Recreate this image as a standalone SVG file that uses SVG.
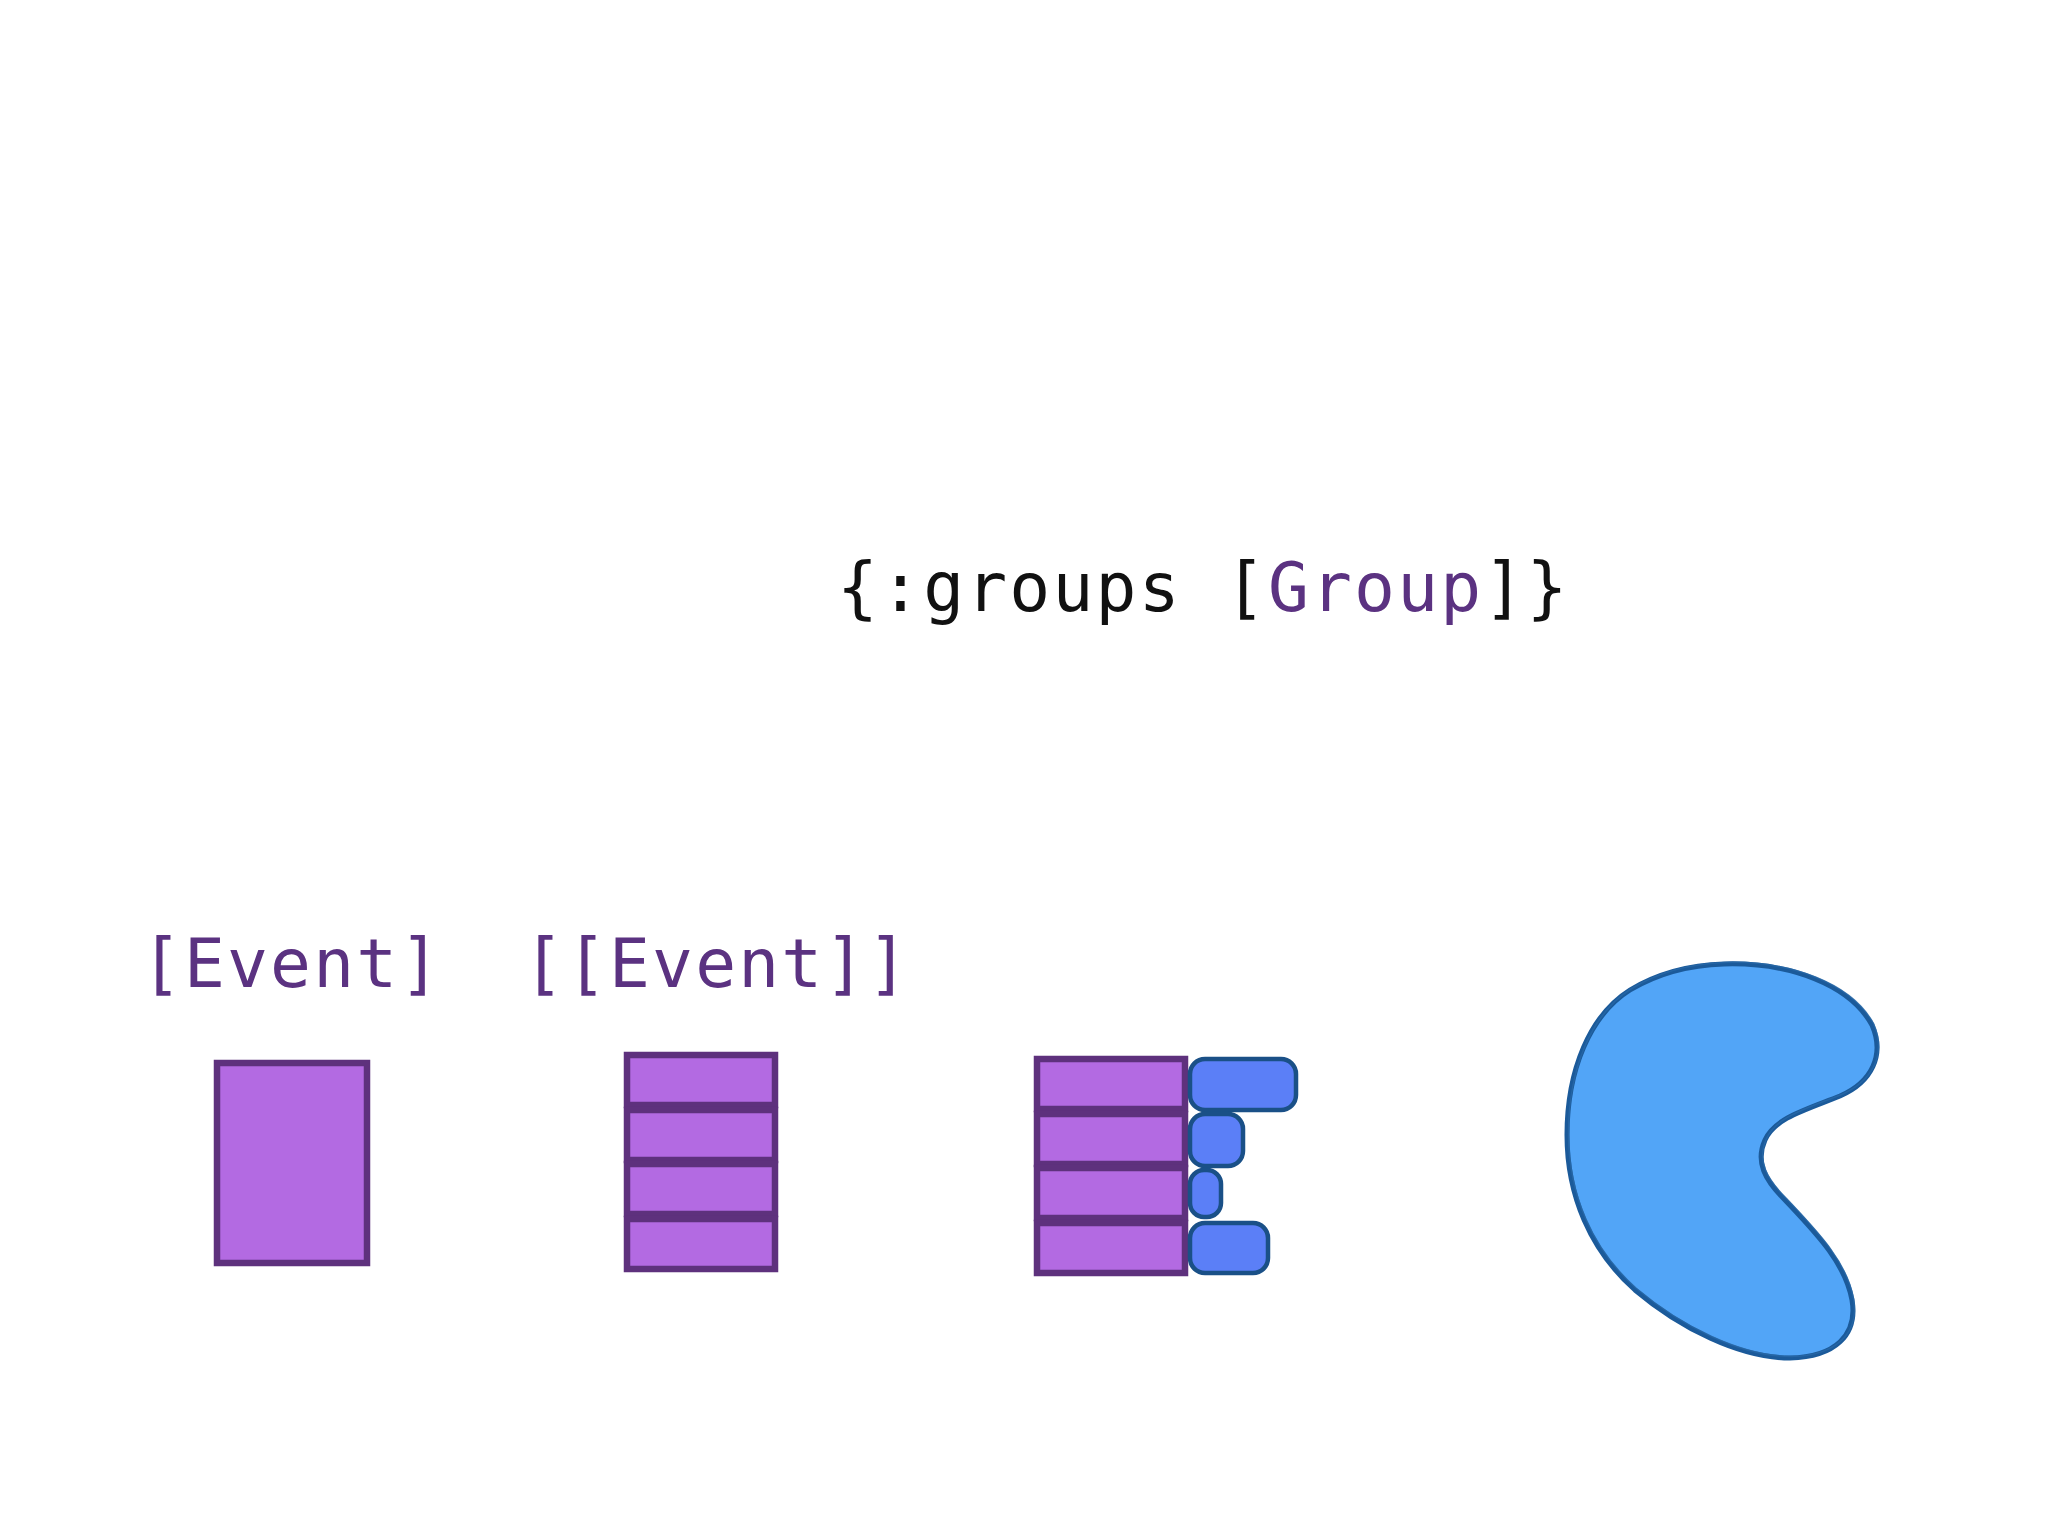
<svg xmlns="http://www.w3.org/2000/svg" width="2048" height="1536" viewBox="0 0 2048 1536">
<style>
.code{font-family:"DejaVu Sans Mono","Liberation Mono",monospace;font-size:68px}
.t1{letter-spacing:2.15px}
.t2{letter-spacing:2.1px}
.blk{fill:#111111}
.pur{fill:#5b3281}
.ev{fill:#b36ae2;stroke:#5e317d;stroke-width:6.5}
.pill{fill:#5b7ff7;stroke:#1a5087;stroke-width:4.5}
.blob{fill:#52a5f7;stroke:#1b5a9a;stroke-width:5;stroke-linejoin:round}
.sketch{fill:none;stroke:#2a6aa8;stroke-width:1.5;opacity:0.7}
</style>
<rect width="2048" height="1536" fill="#ffffff"/>
<g id="title">
<text class="code t1 blk" x="837" y="611">{:groups [<tspan class="pur">Group</tspan>]}</text>
</g>
<g id="label-event">
<text class="code t2 pur" x="141" y="987">[Event]</text>
</g>
<g id="label-event-list">
<text class="code t2 pur" x="523" y="987">[[Event]]</text>
</g>
<g id="single-event">
<rect class="ev" x="217" y="1063" width="150" height="200"/>
</g>
<g id="event-stack">
<rect class="ev" x="627" y="1055" width="148" height="50"/>
<rect class="ev" x="627" y="1110" width="148" height="50"/>
<rect class="ev" x="627" y="1164" width="148" height="50"/>
<rect class="ev" x="627" y="1219" width="148" height="50"/>
</g>
<g id="grouped-stack">
<rect class="ev" x="1037" y="1059" width="148" height="50"/>
<rect class="ev" x="1037" y="1114" width="148" height="50"/>
<rect class="ev" x="1037" y="1168" width="148" height="50"/>
<rect class="ev" x="1037" y="1223" width="148" height="50"/>
<rect class="pill" x="1190" y="1059" width="106" height="51" rx="15"/>
<rect class="pill" x="1190" y="1114" width="53" height="52" rx="15"/>
<rect class="pill" x="1190" y="1170" width="31" height="47" rx="14"/>
<rect class="pill" x="1190" y="1223" width="78" height="50" rx="15"/>
</g>
<g id="blob">
<path id="blobshape" class="blob" d="M 1724 964 C 1790 962, 1850 985, 1872 1025 C 1885 1055, 1872 1082, 1840 1096 C 1805 1110, 1775 1118, 1765 1140 C 1755 1162, 1765 1180, 1785 1200 C 1815 1232, 1845 1262, 1852 1300 C 1858 1335, 1835 1357, 1790 1358 C 1740 1358, 1680 1328, 1635 1290 C 1590 1250, 1567 1195, 1567 1135 C 1567 1070, 1590 1015, 1630 990 C 1660 972, 1690 965, 1724 964 Z"/>
<path class="sketch" transform="translate(1.5,-1.5)" d="M 1724 964 C 1790 962, 1850 985, 1872 1025 C 1885 1055, 1872 1082, 1840 1096 C 1805 1110, 1775 1118, 1765 1140 C 1755 1162, 1765 1180, 1785 1200 C 1815 1232, 1845 1262, 1852 1300 C 1858 1335, 1835 1357, 1790 1358 C 1740 1358, 1680 1328, 1635 1290 C 1590 1250, 1567 1195, 1567 1135 C 1567 1070, 1590 1015, 1630 990 C 1660 972, 1690 965, 1724 964 Z"/>
</g>
<g id="connectors"></g>
</svg>
